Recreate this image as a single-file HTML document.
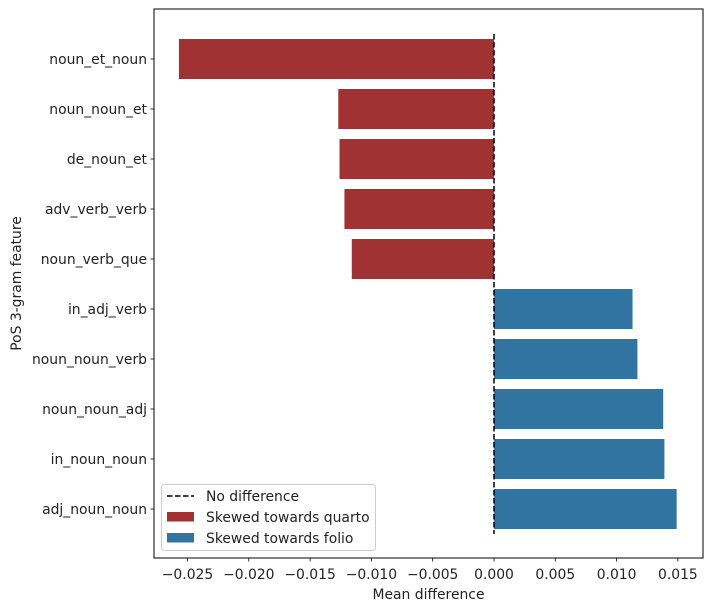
<!DOCTYPE html>
<html><head><meta charset="utf-8"><style>
body{margin:0;background:#fff;}
svg{font-family:"DejaVu Sans","Liberation Sans",sans-serif;}
</style></head><body>
<svg id="chart" width="711" height="611" xmlns="http://www.w3.org/2000/svg"></svg>
<script>
const categories=["noun_et_noun","noun_noun_et","de_noun_et","adv_verb_verb","noun_verb_que","in_adj_verb","noun_noun_verb","noun_noun_adj","in_noun_noun","adj_noun_noun"];
const values=[-0.0257,-0.0127,-0.0126,-0.0122,-0.0116,0.0113,0.0117,0.0138,0.0139,0.0149];
const xTicks=[-0.025,-0.020,-0.015,-0.010,-0.005,0.000,0.005,0.010,0.015];
const xTickLabels=["−0.025","−0.020","−0.015","−0.010","−0.005","0.000","0.005","0.010","0.015"];
const L=154,R=703,T=9,B=558;
const FS=13.9;
const x=v=>494+v/0.005*61.3;
const y=i=>59+i*50;
const svg=document.getElementById('chart');
const NS="http://www.w3.org/2000/svg";
function mk(t,a,p){const e=document.createElementNS(NS,t);for(const k in a)e.setAttribute(k,a[k]);(p||svg).appendChild(e);return e;}
categories.forEach((c,i)=>{
  const v=values[i];
  const r=mk('rect',{x:Math.min(x(0),x(v)),y:y(i)-20,width:Math.abs(x(v)-x(0)),height:40,fill:v<0?'#a03234':'#3274a1'});
  
  
  mk('line',{x1:L-3.5,x2:L,y1:y(i),y2:y(i),stroke:'#000','stroke-width':0.8});
  const t=mk('text',{x:L-7,y:y(i)+5,'text-anchor':'end','font-size':FS,fill:'#222'});
  t.textContent=c;
  
  
});
xTicks.forEach((v,i)=>{
  mk('line',{x1:x(v),x2:x(v),y1:B,y2:B+3.5,stroke:'#000','stroke-width':0.8});
  const t=mk('text',{x:x(v),y:B+21,'text-anchor':'middle','font-size':FS,fill:'#222'});
  t.textContent=xTickLabels[i];
  
  
});
const zl=mk('line',{x1:x(0),x2:x(0),y1:34,y2:534,stroke:'#000','stroke-width':1.5,'stroke-dasharray':'5.5,2.5'});


const fr=mk('rect',{x:L,y:T,width:R-L,height:B-T,fill:'none',stroke:'#000','stroke-width':1});


const xl=mk('text',{x:(L+R)/2,y:599,'text-anchor':'middle','font-size':FS,fill:'#222'});
xl.textContent='Mean difference';


const yl=mk('text',{x:21,y:(T+B)/2,'text-anchor':'middle','font-size':FS,fill:'#222',transform:'rotate(-90 21 '+((T+B)/2)+')'});
yl.textContent='PoS 3-gram feature';


const lg=mk('g',{});


mk('rect',{x:161.5,y:484.5,width:214,height:66,rx:3,fill:'#fff','fill-opacity':0.8,stroke:'#ccc'},lg);
mk('line',{x1:167,x2:194,y1:496,y2:496,stroke:'#000','stroke-width':1.5,'stroke-dasharray':'5.5,2.5'},lg);
mk('rect',{x:167,y:512,width:27,height:9.5,fill:'#a03234'},lg);
mk('rect',{x:167,y:533,width:27,height:9.5,fill:'#3274a1'},lg);
[["No difference",501],["Skewed towards quarto",522],["Skewed towards folio",543]].forEach(([s,yy])=>{
  const t=mk('text',{x:206,y:yy,'font-size':FS,fill:'#222'},lg);
  t.textContent=s;
  
  
});
</script>
</body></html>
